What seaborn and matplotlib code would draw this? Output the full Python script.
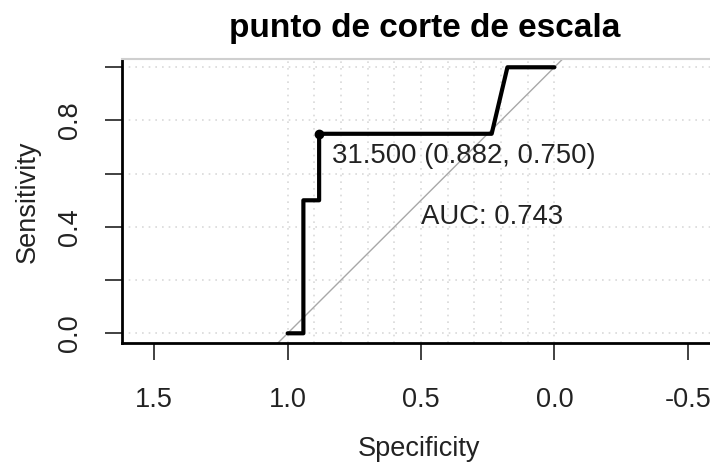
import matplotlib
matplotlib.use("Agg")
import matplotlib.pyplot as plt
import seaborn as sns
import pandas as pd

# ROC coordinates (specificity, sensitivity)
specificity = [1.0, 0.941, 0.941, 0.882, 0.882, 0.235, 0.176, 0.0]
sensitivity = [0.0, 0.0, 0.5, 0.5, 0.75, 0.75, 1.0, 1.0]
best_spec = 0.882
best_sens = 0.750
best_thresh = 31.5
auc_value = 0.743
title_text = "punto de corte de escala"
x_ticks = [1.5, 1.0, 0.5, 0.0, -0.5]
y_ticks = [0.0, 0.2, 0.4, 0.6, 0.8, 1.0]
y_labels = ["0.0", "", "0.4", "", "0.8", ""]

sns.set_theme(style="white")
plt.rcParams['font.family'] = ['Liberation Sans', 'DejaVu Sans']

fig = plt.figure(figsize=(7.1, 4.62), dpi=100)
ax = fig.add_axes([122.3 / 710, 1 - 343.3 / 462, (719.7 - 122.3) / 710, (343.3 - 59.3) / 462])

# grid
for v in [i / 10 for i in range(11)]:
    ax.axvline(v, color="#d9d9d9", lw=1.2, ls=(0, (1, 3)), zorder=0)
for h in y_ticks:
    ax.axhline(h, color="#d9d9d9", lw=1.2, ls=(0, (1, 3)), zorder=0)

# diagonal
ax.axline((1.0, 0.0), (0.0, 1.0), color="#a8a8a8", lw=1.0, zorder=1)

df = pd.DataFrame({"spec": specificity, "sens": sensitivity})
sns.lineplot(data=df, x="spec", y="sens", sort=False, estimator=None,
             color="black", lw=3.0, ax=ax, zorder=3)
ax.plot([best_spec], [best_sens], "o", color="black", ms=6, zorder=4)
ax.annotate(f"{best_thresh:.3f} ({best_spec:.3f}, {best_sens:.3f})",
            (best_spec, best_sens), xytext=(9, -6.5), textcoords="offset points",
            ha="left", va="top", fontsize=19.8, color="#222222")
ax.text(0.5, 0.486, f"AUC: {auc_value:.3f}", ha="left", va="top",
        fontsize=19.8, color="#222222")

ax.set_xlim(1.62, -0.62)
ax.set_ylim(-0.0376, 1.03)
ax.set_xticks(x_ticks)
ax.set_xticklabels([f"{t:.1f}" for t in x_ticks])
ax.set_yticks(y_ticks)
ax.set_yticklabels(y_labels, rotation=90, va="center")
ax.tick_params(axis="both", direction="out", length=12, width=1.3, color="#333333",
               labelsize=19.5, labelcolor="#222222", left=True, bottom=True)
ax.tick_params(axis="x", pad=19.5)
ax.tick_params(axis="y", pad=16.5)

for s in ["left", "bottom"]:
    ax.spines[s].set_color("black")
    ax.spines[s].set_linewidth(2.0)
ax.spines["top"].set_color("#cfcfcf")
ax.spines["top"].set_linewidth(1.5)
ax.spines["right"].set_visible(False)

ax.set_xlabel("Specificity", fontsize=19.5, color="#222222")
ax.set_ylabel("Sensitivity", fontsize=19.5, color="#222222")
ax.xaxis.set_label_coords(0.497, -0.328)
ax.yaxis.set_label_coords(-0.1368, 0.5)
fig.text(425 / 710, 1 - 28 / 462, title_text, ha="center", va="center",
         fontsize=24.0, fontweight="bold", color="black")

fig.savefig("out.png", dpi=100)
